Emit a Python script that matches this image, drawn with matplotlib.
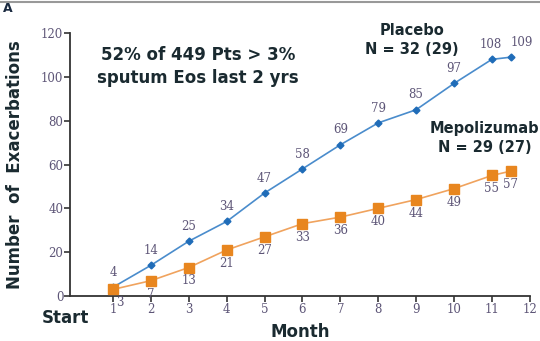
import matplotlib as mpl
mpl.use("Agg")
import matplotlib.pyplot as plt

months = [1, 2, 3, 4, 5, 6, 7, 8, 9, 10, 11, 11.5]
placebo = [4, 14, 25, 34, 47, 58, 69, 79, 85, 97, 108, 109]
mepo = [3, 7, 13, 21, 27, 33, 36, 40, 44, 49, 55, 57]
xticks = list(range(1, 13))
yticks = [0, 20, 40, 60, 80, 100, 120]

blue = "#4a8ccc"
blue_dark = "#1f6cb8"
orange = "#f0a35e"
orange_dark = "#e8861f"
tick_col = "#5d5577"
txt_col = "#1a2a30"

fig = plt.figure(figsize=(5.4, 3.41), dpi=100)
ax = fig.add_axes([0.13, 0.132, 0.851, 0.771])

ax.plot(months, placebo, "-", c=blue, lw=1.2, marker="D", ms=3.5,
        mfc=blue_dark, mec=blue_dark, zorder=3)
ax.plot(months, mepo, "-", c=orange, lw=1.2, marker="s", ms=6.5,
        mfc=orange_dark, mec=orange_dark, zorder=3)

# label offsets (points) so the crowded end labels don't collide
p_dx = [0] * 10 + [-1, 8]
m_dx = [5] + [0] * 11
for x, y, dx in zip(months, placebo, p_dx):
    ax.annotate(str(y), (x, y), xytext=(dx, 6), textcoords="offset points",
                ha="center", va="bottom", fontsize=8.5, color=tick_col,
                family="DejaVu Serif")
for x, y, dx in zip(months, mepo, m_dx):
    ax.annotate(str(y), (x, y), xytext=(dx, -5), textcoords="offset points",
                ha="center", va="top", fontsize=8.5, color=tick_col,
                family="DejaVu Serif")

ax.set_xlim(-0.13, 12)
ax.set_ylim(0, 120)
ax.set_xticks(xticks)
ax.set_yticks(yticks)
ax.spines["top"].set_visible(False)
ax.spines["right"].set_visible(False)
for sp in ("left", "bottom"):
    ax.spines[sp].set_color("#333333")
    ax.spines[sp].set_linewidth(1.3)
ax.tick_params(direction="out", length=4, width=1.2, color="#333333",
               labelsize=8.5, labelcolor=tick_col, pad=1)
for lab in ax.get_xticklabels() + ax.get_yticklabels():
    lab.set_family("DejaVu Serif")

ax.set_ylabel("Number  of  Exacerbations", fontsize=12, fontweight="bold",
              color=txt_col, labelpad=12)
ax.set_xlabel("Month", fontsize=12, fontweight="bold", color=txt_col,
              labelpad=5)

fig.text(0.078, 0.068, "Start", fontsize=12, fontweight="bold",
         color=txt_col, ha="left", va="center")
fig.text(0.005, 0.975, "A", fontsize=9, fontweight="bold", color="#1a2a40",
         ha="left", va="center")
fig.add_artist(plt.Line2D([0, 1], [0.995, 0.995], color="#999999", lw=1.5))

fig.text(0.367, 0.805, "52% of 449 Pts > 3%\nsputum Eos last 2 yrs",
         fontsize=12, fontweight="bold", color=txt_col, ha="center",
         va="center", linespacing=1.3)
fig.text(0.763, 0.882, "Placebo\nN = 32 (29)", fontsize=10.5,
         fontweight="bold", color=txt_col, ha="center", va="center",
         linespacing=1.3)
fig.text(0.898, 0.595, "Mepolizumab\nN = 29 (27)", fontsize=10.5,
         fontweight="bold", color=txt_col, ha="center", va="center",
         linespacing=1.3)

fig.savefig("out.png")
